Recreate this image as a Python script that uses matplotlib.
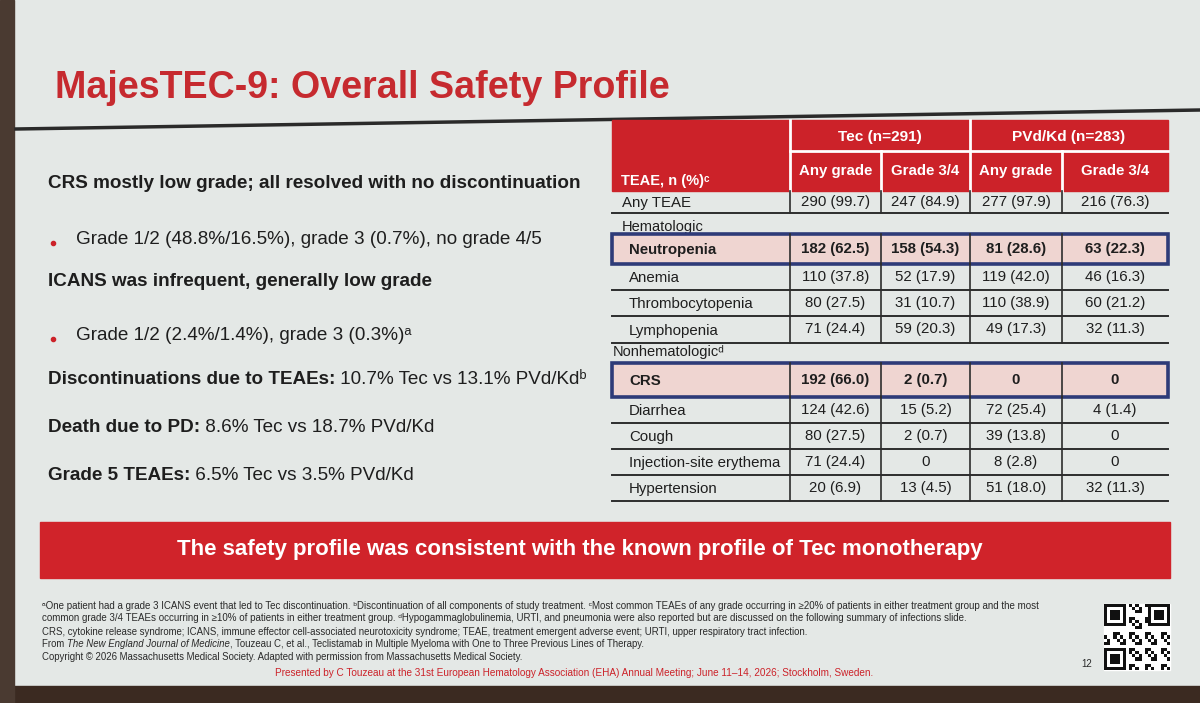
import matplotlib.pyplot as plt
import matplotlib.patches as mpatches
import numpy as np

plt.rcParams['font.family'] = ['Liberation Sans', 'DejaVu Sans']

RED = '#cc2229'
TITLE_RED = '#c62a2f'
SLIDE = '#e4e8e6'
INK = '#1e1e1e'
PINK = '#efd5d1'
BLUE = '#2e3b78'
NARROW = ['Liberation Sans Narrow', 'Liberation Sans', 'DejaVu Sans']

# table data
ae_names = ['Any TEAE', 'Neutropenia', 'Anemia', 'Thrombocytopenia', 'Lymphopenia',
            'CRS', 'Diarrhea', 'Cough', 'Injection-site erythema', 'Hypertension']
tec_any = ['290 (99.7)', '182 (62.5)', '110 (37.8)', '80 (27.5)', '71 (24.4)',
           '192 (66.0)', '124 (42.6)', '80 (27.5)', '71 (24.4)', '20 (6.9)']
tec_g34 = ['247 (84.9)', '158 (54.3)', '52 (17.9)', '31 (10.7)', '59 (20.3)',
           '2 (0.7)', '15 (5.2)', '2 (0.7)', '0', '13 (4.5)']
pvd_any = ['277 (97.9)', '81 (28.6)', '119 (42.0)', '110 (38.9)', '49 (17.3)',
           '0', '72 (25.4)', '39 (13.8)', '8 (2.8)', '51 (18.0)']
pvd_g34 = ['216 (76.3)', '63 (22.3)', '46 (16.3)', '60 (21.2)', '32 (11.3)',
           '0', '4 (1.4)', '0', '0', '32 (11.3)']
highlighted = ['Neutropenia', 'CRS']
arm_labels = ['Tec (n=291)', 'PVd/Kd (n=283)']
grade_labels = ['Any grade', 'Grade 3/4', 'Any grade', 'Grade 3/4']

# left-hand bullet text: (parts, indent) ; parts are (text, weight)
left_lines = [
    ([('CRS mostly low grade; all resolved with no discontinuation', 'bold')], False),
    ([('Grade 1/2 (48.8%/16.5%), grade 3 (0.7%), no grade 4/5', 'normal')], True),
    ([('ICANS was infrequent, generally low grade', 'bold')], False),
    ([('Grade 1/2 (2.4%/1.4%), grade 3 (0.3%)ᵃ', 'normal')], True),
    ([('Discontinuations due to TEAEs:', 'bold'), (' 10.7% Tec vs 13.1% PVd/Kdᵇ', 'normal')], False),
    ([('Death due to PD:', 'bold'), (' 8.6% Tec vs 18.7% PVd/Kd', 'normal')], False),
    ([('Grade 5 TEAEs:', 'bold'), (' 6.5% Tec vs 3.5% PVd/Kd', 'normal')], False),
]

footnotes = [
    'ᵃOne patient had a grade 3 ICANS event that led to Tec discontinuation. ᵇDiscontinuation of all components of study treatment. '
    'ᶜMost common TEAEs of any grade occurring in ≥20% of patients in either treatment group and the most',
    'common grade 3/4 TEAEs occurring in ≥10% of patients in either treatment group. ᵈHypogammaglobulinemia, URTI, and pneumonia '
    'were also reported but are discussed on the following summary of infections slide.',
    'CRS, cytokine release syndrome; ICANS, immune effector cell-associated neurotoxicity syndrome; TEAE, treatment emergent '
    'adverse event; URTI, upper respiratory tract infection.',
]

fig = plt.figure(figsize=(12, 7.03), dpi=100)
fig.patch.set_facecolor(SLIDE)
ax = fig.add_axes([0, 0, 1, 1])
ax.set_xlim(0, 1200)
ax.set_ylim(703, 0)
ax.axis('off')
ren = fig.canvas.get_renderer()


def width_of(t):
    return t.get_window_extent(renderer=ren).width


def fit(t, w):
    t.set_fontsize(t.get_fontsize() * w / width_of(t))
    return t


def rich(x, y, parts, size, color=INK, family=None, **kw):
    for txt, style in parts:
        opts = dict(fontsize=size, color=color, va='center', ha='left')
        if style == 'italic':
            opts['style'] = 'italic'
        else:
            opts['fontweight'] = style
        if family:
            opts['family'] = family
        opts.update(kw)
        t = ax.text(x, y, txt, **opts)
        x += width_of(t)
    return x


# photo surroundings
ax.add_patch(mpatches.Rectangle((0, 686), 1200, 17, color='#3b2a21', zorder=0))
ax.add_patch(mpatches.Rectangle((0, 0), 14, 703, color='#4a3a31', zorder=0))

# title and rule
t = ax.text(55, 88, 'MajesTEC-9: Overall Safety Profile', color=TITLE_RED,
            fontweight='bold', fontsize=24, va='center')
fit(t, 617)
ax.plot([16, 1200], [129, 110], color='#2a2a2a', lw=2.5, zorder=1)

# left text block
line_y = [183, 240, 282, 336, 380, 428, 475]
t = ax.text(52, line_y[0], left_lines[0][0][0][0], fontweight='bold', fontsize=13, va='center')
fit(t, 531)
body_size = t.get_fontsize()
t.remove()
for (parts, indent), y in zip(left_lines, line_y):
    if indent:
        ax.plot(53, y + 3, 'o', color=RED, ms=3)
        rich(76, y, parts, body_size)
    else:
        rich(48, y, parts, body_size)

# table geometry
col_x = [612, 790, 881, 970, 1062, 1168]
head_top, head_mid, head_bot = 120, 151, 191
row_top = [191, 234, 264, 290, 316, 363, 397, 423, 449, 475]
row_bot = [213, 264, 290, 316, 343, 397, 423, 449, 475, 501]
cell_size = 10.8

ax.add_patch(mpatches.Rectangle((col_x[0], head_top), col_x[-1] - col_x[0],
                                head_bot - head_top, color=RED, zorder=2))
wl = dict(color='white', lw=2, zorder=3)
ax.plot([col_x[1], col_x[-1]], [head_mid, head_mid], **wl)
for i, cx in enumerate(col_x[1:-1], start=1):
    ax.plot([cx, cx], [head_top if i in (1, 3) else head_mid, head_bot], **wl)
for k, lab in enumerate(arm_labels):
    ax.text((col_x[1 + 2 * k] + col_x[3 + 2 * k]) / 2, (head_top + head_mid) / 2 + 1, lab,
            color='white', fontweight='bold', fontsize=cell_size + 0.3, ha='center', va='center', zorder=4)
for k, lab in enumerate(grade_labels):
    ax.text((col_x[k + 1] + col_x[k + 2]) / 2, (head_mid + head_bot) / 2, lab,
            color='white', fontweight='bold', fontsize=cell_size, ha='center', va='center', zorder=4)
ax.text(621, 181, 'TEAE, n (%)ᶜ', color='white', fontweight='bold', fontsize=cell_size - 0.3,
        va='center', zorder=4)

# group labels
ax.text(622, 227, 'Hematologic', fontsize=cell_size - 0.3, color=INK, va='center')
ax.text(613, 352, 'Nonhematologicᵈ', fontsize=cell_size - 0.3, color=INK, va='center')

values = [tec_any, tec_g34, pvd_any, pvd_g34]
for i, name in enumerate(ae_names):
    top, bot = row_top[i], row_bot[i]
    yc = (top + bot) / 2
    hl = name in highlighted
    if hl:
        ax.add_patch(mpatches.Rectangle((col_x[0], top), col_x[-1] - col_x[0], bot - top,
                                        facecolor=PINK, edgecolor=BLUE, lw=2.6, zorder=3))
    else:
        ax.plot([col_x[0], col_x[-1]], [bot, bot], color='#2d2d2d', lw=1.4, zorder=2)
    for cx in col_x[1:-1]:
        ax.plot([cx, cx], [top, bot], color='#2d2d2d', lw=1.2, zorder=4)
    lx = 622 if i == 0 else 629
    ax.text(lx, yc + 1, name, fontsize=cell_size, color=INK, va='center',
            fontweight='bold' if hl else 'normal', zorder=5)
    for k, col in enumerate(values):
        ax.text((col_x[k + 1] + col_x[k + 2]) / 2, yc, col[i], fontsize=cell_size, color=INK,
                ha='center', va='center', fontweight='bold' if hl else 'normal', zorder=5)

# banner
ax.add_patch(mpatches.Rectangle((40, 522), 1130, 56, color='#d0232a', zorder=2))
t = ax.text(580, 550, 'The safety profile was consistent with the known profile of Tec monotherapy',
            color='white', fontweight='bold', fontsize=15, ha='center', va='center', zorder=3)
fit(t, 813)

# footnotes
foot_y = [606, 618, 632, 644, 657]
foot_w = [1012, 940, 780]
for txt, y, w in zip(footnotes, foot_y, foot_w):
    t = ax.text(42, y, txt, fontsize=6, color='#2a2a2a', va='center', family=NARROW)
    fit(t, w)
fsize = t.get_fontsize()
rich(42, foot_y[3], [('From ', 'normal'), ('The New England Journal of Medicine', 'italic'),
                     (', Touzeau C, et al., Teclistamab in Multiple Myeloma with One to Three '
                      'Previous Lines of Therapy.', 'normal')], fsize, color='#2a2a2a', family=NARROW)
ax.text(42, foot_y[4], 'Copyright © 2026 Massachusetts Medical Society. Adapted with permission '
        'from Massachusetts Medical Society.', fontsize=fsize, color='#2a2a2a', va='center', family=NARROW)
t = ax.text(574, 673, 'Presented by C Touzeau at the 31st European Hematology Association (EHA) '
            'Annual Meeting; June 11–14, 2026; Stockholm, Sweden.', color=RED, fontsize=6,
            ha='center', va='center', family=NARROW)
fit(t, 604)
ax.text(1087, 664, '12', fontsize=7, color='#2a2a2a', va='center', ha='center')

# QR code decoration
qx, qy, qs, n = 1104, 604, 66, 21
cell = qs / n
ax.add_patch(mpatches.Rectangle((qx, qy), qs, qs, color='white', zorder=2))
ii, jj = np.meshgrid(np.arange(n), np.arange(n))
mask = ((ii * 7 + jj * 3 + ii * jj) % 5 < 2)
for fx, fy in [(0, 0), (n - 7, 0), (0, n - 7)]:
    mask[fy:fy + 8, fx:fx + 8] = False
for r_, c_ in zip(*np.nonzero(mask)):
    ax.add_patch(mpatches.Rectangle((qx + c_ * cell, qy + r_ * cell), cell, cell, color='#111', zorder=3, lw=0))
for fx, fy in [(0, 0), (n - 7, 0), (0, n - 7)]:
    for s, colr in [(7, '#111'), (5, 'white'), (3, '#111')]:
        off = (7 - s) / 2
        ax.add_patch(mpatches.Rectangle((qx + (fx + off) * cell, qy + (fy + off) * cell),
                                        s * cell, s * cell, color=colr, zorder=4, lw=0))

fig.savefig('out.png', dpi=100, facecolor=fig.get_facecolor())
